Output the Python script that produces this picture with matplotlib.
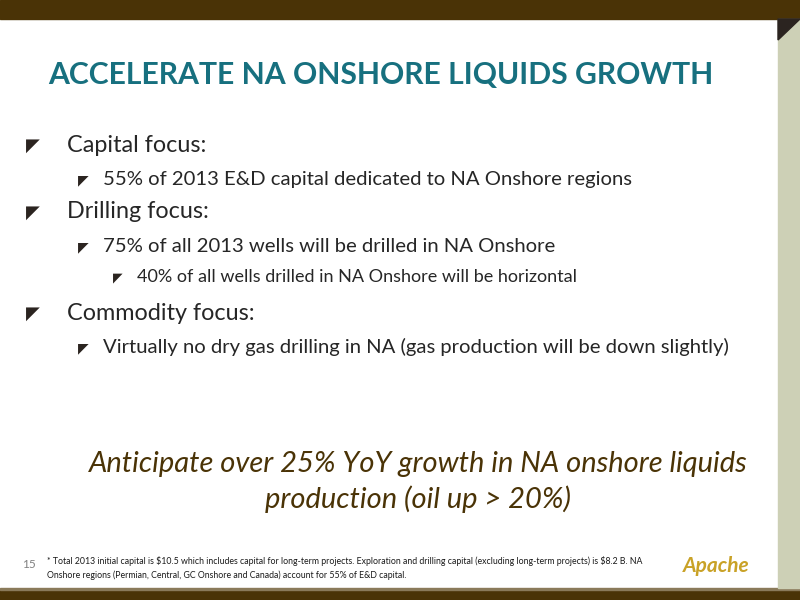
import matplotlib
matplotlib.use("Agg")
import matplotlib.pyplot as plt
from matplotlib.patches import Rectangle, Polygon

title = "ACCELERATE NA ONSHORE LIQUIDS GROWTH"
bullet_texts = [
    "Capital focus:",
    "55% of 2013 E&D capital dedicated to NA Onshore regions",
    "Drilling focus:",
    "75% of all 2013 wells will be drilled in NA Onshore",
    "40% of all wells drilled in NA Onshore will be horizontal",
    "Commodity focus:",
    "Virtually no dry gas drilling in NA (gas production will be down slightly)",
]
bullet_levels = [0, 1, 0, 1, 2, 0, 1]
bullet_y = [145, 179, 212, 246, 277, 313, 347]
callout = "Anticipate over 25% YoY growth in NA onshore liquids\nproduction (oil up > 20%)"
footnote = ("* Total 2013 initial capital is \\$10.5 which includes capital for long-term projects. Exploration and drilling capital (excluding long-term projects) is \\$8.2 B. NA\n"
            "Onshore regions (Permian, Central, GC Onshore and Canada) account for 55% of E&D capital.")
page = "15"

plt.rcParams['font.family'] = ['Lato', 'DejaVu Sans']
W, H = 800, 600
fig = plt.figure(figsize=(8, 6), dpi=100)
ax = fig.add_axes([0, 0, 1, 1])
ax.set_xlim(0, W); ax.set_ylim(H, 0); ax.axis('off')

brown = '#4a3306'
ax.add_patch(Rectangle((0, 0), W, 19, color=brown))
ax.add_patch(Rectangle((0, 590), W, 10, color=brown))
ax.add_patch(Rectangle((0, 588), W, 2, color='#8a7a5a'))
ax.add_patch(Rectangle((778, 19), 22, 569, color='#cdd0b6'))
ax.add_patch(Polygon([(778, 19), (800, 19), (778, 40)], color='#2b2420'))

ax.text(48, 75, title, color='#17707f', fontsize=21.7, fontweight='bold', va='center')

sizes = [16.8, 14.6, 13.0]
asz = [13, 10, 9]
xs = [[26, 67], [78, 103], [113, 137]]
for t, lv, y in zip(bullet_texts, bullet_levels, bullet_y):
    bx, tx = xs[lv]
    ax.text(bx, y + 1, '◤', fontsize=asz[lv], color='#2b2420', va='center',
            family='DejaVu Sans')
    ax.text(tx, y, t, fontsize=sizes[lv], color='#262626', va='center')

ax.text(418, 482, callout, fontsize=21, style='italic', color='#4a3306',
        ha='center', va='center', linespacing=1.4)

ax.text(22, 565, page, fontsize=8.5, color='#808080', va='center')
ax.text(47, 568, footnote, fontsize=6.3, color='#1a1a1a', va='center', linespacing=1.55)
ax.text(716, 566, 'Apache', fontsize=15, style='italic', fontweight='bold',
        color='#c9a227', ha='center', va='center')

fig.savefig('out.png', dpi=100)
